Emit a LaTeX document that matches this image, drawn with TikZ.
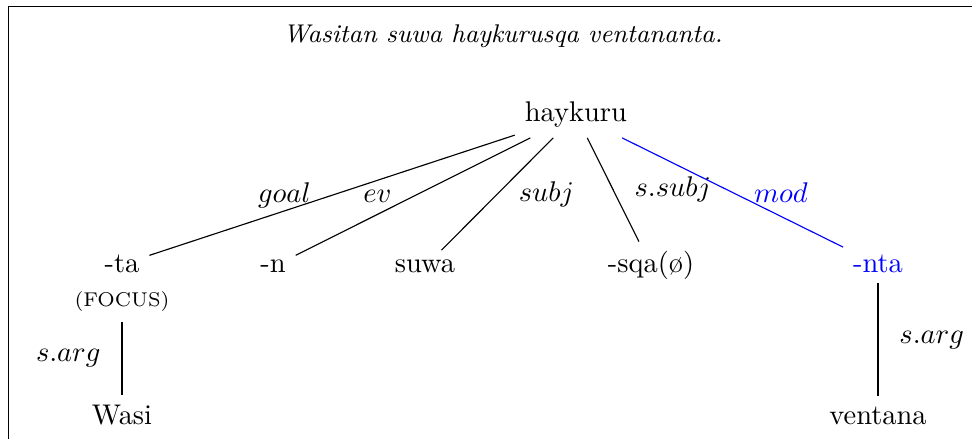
\documentclass[tikz,border=0pt]{standalone}
\usepackage{amsmath}
\usepackage{amssymb}
\usepackage{tikz}

\tikzset{
  word/.style={anchor=base},
  rel/.style={midway}
}

\begin{document}
\begin{tikzpicture}
    \useasboundingbox (0,0) rectangle (12,-5.42);
    % frame
    \draw (12,-0.075) -- (0.1,-0.075) -- (0.1,-5.42);
    % sentence
    \node[word] (title) at (6.21,-0.53) {\small\textit{Wasitan suwa haykurusqa ventananta.}};
    % root and its dependents
    \node[word] (haykuru) at (7.11,-1.506) {haykuru};
    \node[word] (ta) at (1.506,-3.37) {-ta};
    \node[word] (n) at (3.37,-3.37) {-n};
    \node[word] (suwa) at (5.247,-3.37) {suwa};
    \node[word] (sqa) at (8.037,-3.37) {-sqa(ø)};
    \node[word, blue] (nta) at (10.84,-3.37) {-nta};
    \node[word] (focus) at (1.506,-3.79) {\scriptsize (FOCUS)};
    % leaves
    \node[word] (wasi) at (1.506,-5.235) {Wasi};
    \node[word] (ventana) at (10.84,-5.235) {ventana};
    % arcs
    \foreach \dep/\lab/\side in {ta/goal/left, n/ev/left, suwa/subj/right, sqa/s.subj/right}{
      \draw (haykuru) -- node[rel, \side=4pt] {$\lab$} (\dep);
    }
    \draw[blue] (haykuru) -- node[rel, right=4pt] {$mod$} (nta);
    \draw (focus) -- node[rel, left=4pt] {$s.arg$} (wasi);
    \draw (nta) -- node[rel, right=4pt] {$s.arg$} (ventana);
  \end{tikzpicture}
\end{document}
